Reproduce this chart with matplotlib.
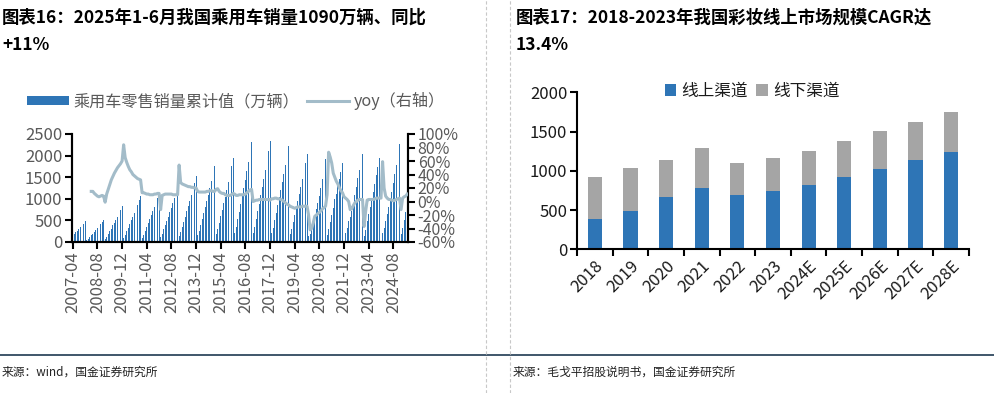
import matplotlib.pyplot as plt
import numpy as np

plt.rcParams['font.family'] = ['Noto Sans CJK SC', 'DejaVu Sans']
plt.rcParams['axes.unicode_minus'] = False

# ---------- 图表16 数据：乘用车零售销量累计值（万辆），2007-04 ~ 2025-05 ----------
sales_2007 = [145, 180, 220, 257, 295, 337, 380, 428, 475]  # 4-12月
sales_2008 = [46, 77, 118, 157, 196, 239, 278, 319, 366, 412, 464, 515]
sales_2009 = [74, 123, 189, 251, 312, 382, 444, 510, 584, 658, 740, 822]
sales_2010 = [97, 161, 247, 328, 409, 500, 581, 667, 764, 861, 968, 1076]
sales_2011 = [103, 172, 263, 349, 435, 532, 618, 710, 813, 916, 1030, 1145]
sales_2012 = [114, 190, 291, 386, 481, 588, 683, 784, 898, 1012, 1138, 1265]
sales_2013 = [138, 230, 352, 467, 581, 711, 826, 949, 1086, 1224, 1377, 1530]
sales_2014 = [158, 264, 405, 537, 669, 818, 950, 1091, 1250, 1408, 1584, 1760]
sales_2015 = [175, 292, 447, 593, 739, 904, 1050, 1206, 1381, 1556, 1750, 1945]
sales_2016 = [208, 347, 531, 705, 878, 1074, 1247, 1432, 1640, 1848, 2079, 2310]
sales_2017 = [210, 351, 538, 713, 888, 1087, 1263, 1450, 1660, 1870, 2104, 2338]
sales_2018 = [200, 334, 512, 679, 846, 1035, 1202, 1380, 1580, 1780, 2003, 2225]
sales_2019 = [184, 306, 469, 622, 775, 949, 1102, 1265, 1448, 1632, 1836, 2040]
sales_2020 = [147, 178, 295, 420, 580, 760, 900, 1060, 1260, 1460, 1690, 1920]
sales_2021 = [165, 308, 473, 625, 792, 985, 1120, 1285, 1452, 1630, 1818, 2010]
sales_2022 = [205, 320, 476, 580, 715, 910, 1090, 1280, 1475, 1660, 1825, 2040]
sales_2023 = [130, 270, 480, 640, 815, 990, 1160, 1350, 1550, 1745, 1935, 2154]
sales_2024 = [205, 315, 485, 645, 816, 993, 1165, 1355, 1566, 1790, 2022, 2269]
sales_2025 = [180, 320, 510, 686, 870]  # 1-5月

# yoy（%），从 2008-04 开始
yoy_2008 = [15, 15, 12, 10, 8, 7, 8, 9, 8]
yoy_2009 = [-1, 11, 18, 25, 32, 37, 42, 46, 50, 53, 56, 60]
yoy_2010 = [84, 65, 58, 52, 47, 44, 40, 38, 36, 34, 33, 32]
yoy_2011 = [13, 13, 12, 11, 11, 10, 10, 10, 11, 11, 12, 12]
yoy_2012 = [-12, 9, 10, 11, 11, 11, 11, 11, 10, 10, 10, 10]
yoy_2013 = [54, 28, 26, 25, 24, 23, 22, 22, 21, 21, 20, 20]
yoy_2014 = [15, 14, 14, 14, 14, 14, 15, 15, 16, 16, 15, 15]
yoy_2015 = [18, 19, 15, 13, 12, 12, 10, 9, 9, 9, 10, 12]
yoy_2016 = [11, 9, 9, 10, 10, 10, 10, 11, 13, 15, 17, 18]
yoy_2017 = [0, 1, 2, 2, 3, 3, 3, 3, 3, 3, 3, 2]
yoy_2018 = [4, 4, 5, 5, 4, 4, 3, 2, 0, -2, -4, -5]
yoy_2019 = [-7, -8, -9, -10, -9, -8, -8, -8, -7, -7, -7, -7]
yoy_2020 = [-20, -42, -40, -32, -22, -20, -18, -16, -14, -11, -9, -7]
yoy_2021 = [10, 73, 66, 57, 42, 36, 30, 26, 20, 16, 13, 7]
yoy_2022 = [5, 3, 0, -12, -11, -6, -2, 0, 2, 3, 3, 3]
yoy_2023 = [-37, -15, 2, 3, 3, 3, 3, 4, 5, 5, 5, 5]
yoy_2024 = [59, 20, 8, 5, 3, 3, 2, 1, 2, 3, 4, 5]
yoy_2025 = [-12, 5, 7, 8, 11]

month_ticks = ['2007-04', '2008-08', '2009-12', '2011-04', '2012-08', '2013-12', '2015-04',
               '2016-08', '2017-12', '2019-04', '2020-08', '2021-12', '2023-04', '2024-08']

# ---------- 图表17 数据：彩妆市场规模 ----------
years = ['2018', '2019', '2020', '2021', '2022', '2023', '2024E', '2025E', '2026E', '2027E', '2028E']
online = [386, 488, 667, 781, 692, 743, 820, 921, 1023, 1138, 1240]
offline = [535, 548, 471, 510, 408, 420, 433, 459, 484, 484, 509]

sales = (sales_2007 + sales_2008 + sales_2009 + sales_2010 + sales_2011 + sales_2012 +
         sales_2013 + sales_2014 + sales_2015 + sales_2016 + sales_2017 + sales_2018 +
         sales_2019 + sales_2020 + sales_2021 + sales_2022 + sales_2023 + sales_2024 + sales_2025)
yoy = (yoy_2008 + yoy_2009 + yoy_2010 + yoy_2011 + yoy_2012 + yoy_2013 + yoy_2014 +
       yoy_2015 + yoy_2016 + yoy_2017 + yoy_2018 + yoy_2019 + yoy_2020 + yoy_2021 +
       yoy_2022 + yoy_2023 + yoy_2024 + yoy_2025)

W, H = 994, 393
fig = plt.figure(figsize=(W / 100, H / 100), dpi=100)


def box(x0, y0, x1, y1):
    # 像素坐标 -> figure 坐标
    return [x0 / W, 1 - y1 / H, (x1 - x0) / W, (y1 - y0) / H]


blue = '#2E75B6'
grey_txt = '#595959'
line_c = '#A3BCC9'

# 标题、来源、分隔线
title_kw = dict(fontsize=12.5, fontweight='bold', fontstyle='italic', color='black', va='center')
fig.text(2 / W, 1 - 18 / H, '图表16：2025年1-6月我国乘用车销量1090万辆、同比', **title_kw)
fig.text(2 / W, 1 - 45 / H, '+11%', **title_kw)
fig.text(516 / W, 1 - 18 / H, '图表17：2018-2023年我国彩妆线上市场规模CAGR达', **title_kw)
fig.text(516 / W, 1 - 45 / H, '13.4%', **title_kw)

fig.text(2 / W, 1 - 372 / H, '来源：wind，国金证券研究所', fontsize=8.5, va='center', color='#222222')
fig.text(513 / W, 1 - 372 / H, '来源：毛戈平招股说明书，国金证券研究所', fontsize=8.5, va='center', color='#222222')

fig.add_artist(plt.Line2D([0, 1], [1 - 355 / H, 1 - 355 / H], color='#1F3A52', lw=1.2))
for xv in (486, 510):
    fig.add_artist(plt.Line2D([xv / W, xv / W], [0, 1], color='#C8C8C8', lw=0.8, ls=(0, (3, 2))))

# ---------- 左图 ----------
ax = fig.add_axes(box(72, 134, 408, 242))
x = np.arange(len(sales))
ax.bar(x, sales, width=0.6, color=blue, label='乘用车零售销量累计值（万辆）', zorder=2)
ax.set_xlim(-0.5, len(sales) - 0.5)
ax.set_ylim(0, 2500)
ax.set_yticks(range(0, 2501, 500))
ax.set_xticks(np.arange(0, len(sales), 16))
ax.set_xticklabels(month_ticks, rotation=90)
ax.spines['top'].set_visible(False)
for s in ('left', 'right', 'bottom'):
    ax.spines[s].set_linewidth(1.5)
ax.tick_params(axis='y', labelsize=12, labelcolor=grey_txt, length=5, width=1.5, pad=2)
ax.tick_params(axis='x', labelsize=12, labelcolor=grey_txt, length=5, width=1.5, pad=2)

ax2 = ax.twinx()
ax2.plot(np.arange(12, 12 + len(yoy)), yoy, color=line_c, lw=2.2, label='yoy（右轴）', zorder=3)
ax2.set_ylim(-60, 100)
ax2.set_yticks(range(-60, 101, 20))
ax2.set_yticklabels([f'{v}%' for v in range(-60, 101, 20)])
ax2.spines['top'].set_visible(False)
for s in ('left', 'right', 'bottom'):
    ax2.spines[s].set_linewidth(1.5)
ax2.tick_params(axis='y', labelsize=11.5, labelcolor=grey_txt, length=5, width=1.5, pad=2)

h1, l1 = ax.get_legend_handles_labels()
h2, l2 = ax2.get_legend_handles_labels()
fig.legend(h1 + h2, l1 + l2, loc='center', bbox_to_anchor=(236 / W, 1 - 101 / H), ncol=2,
           frameon=False, fontsize=11.6, labelcolor=grey_txt, handlelength=2.6, handleheight=0.5,
           columnspacing=0.5, handletextpad=0.3)

# ---------- 右图 ----------
bx = fig.add_axes(box(577, 92.3, 969, 249.3))
xr = np.arange(len(years))
bx.bar(xr, online, width=0.4, color=blue, label='线上渠道')
bx.bar(xr, offline, width=0.4, bottom=online, color='#A5A5A5', label='线下渠道')
bx.set_xlim(-0.5, len(years) - 0.5)
bx.set_ylim(0, 2000)
bx.set_yticks(range(0, 2001, 500))
bx.set_xticks(xr)
bx.set_xticklabels(years, rotation=45, ha='right', rotation_mode='anchor')
bx.set_xticks(np.arange(-0.5, len(years)), minor=True)
bx.tick_params(axis='x', which='major', length=0, labelsize=12, labelcolor='#1a1a1a', pad=6)
bx.tick_params(axis='x', which='minor', length=5, width=1.5)
bx.tick_params(axis='y', labelsize=12, labelcolor='#1a1a1a', length=5, width=1.5, pad=2)
for s in ('top', 'right'):
    bx.spines[s].set_visible(False)
for s in ('left', 'bottom'):
    bx.spines[s].set_linewidth(1.5)
bx.legend(loc='center', bbox_to_anchor=(752 / W, 1 - 91 / H), bbox_transform=fig.transFigure,
          ncol=2, frameon=False, fontsize=12, handlelength=0.7, handleheight=0.7,
          handletextpad=0.3, columnspacing=0.5, labelcolor='#1a1a1a')

fig.savefig('out.png', dpi=100)
